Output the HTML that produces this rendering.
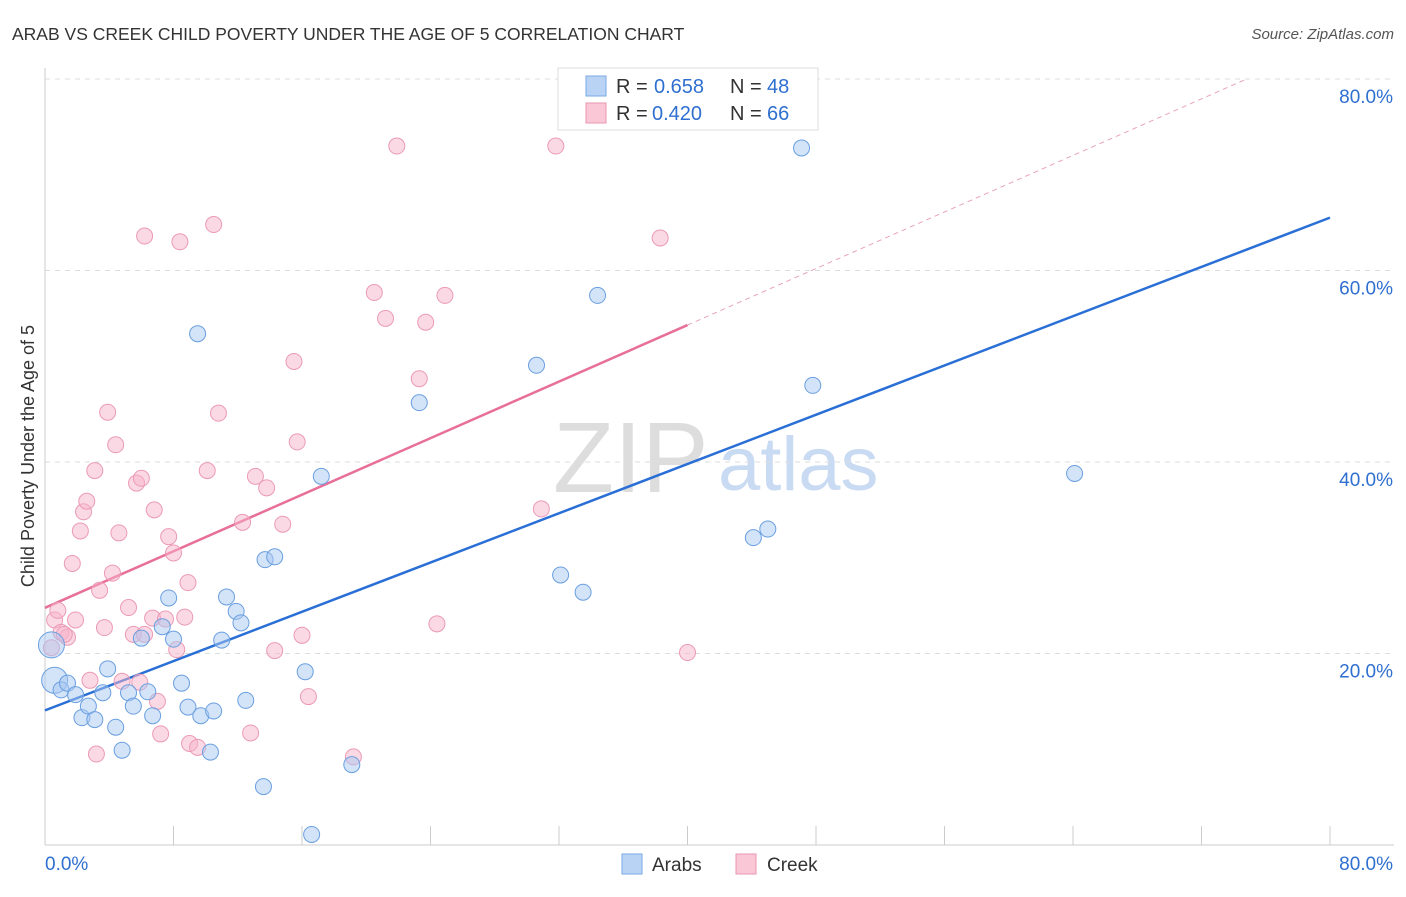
<!DOCTYPE html>
<html><head><meta charset="utf-8"><style>
body{margin:0;background:#fff;font-family:"Liberation Sans",sans-serif;}
svg text{font-family:"Liberation Sans",sans-serif;}
</style></head><body>
<svg id="chart" width="1406" height="892">
<text x="12" y="40" font-size="17.5" fill="#333">ARAB VS CREEK CHILD POVERTY UNDER THE AGE OF 5 CORRELATION CHART</text>
<text x="1394" y="39" font-size="15" fill="#555" font-style="italic" text-anchor="end">Source: ZipAtlas.com</text>
<text x="34" y="456" font-size="18" fill="#333" text-anchor="middle" transform="rotate(-90 34 456)">Child Poverty Under the Age of 5</text>
<text x="553" y="492" font-size="100" fill="#ddd" font-family="Liberation Serif">ZIP</text>
<text x="718" y="490" font-size="76" fill="#c9daf3">atlas</text>
<g id="grid"></g><g id="axes"></g><g id="lines"></g><g id="pts"></g>
<g>
<rect x="558" y="68" width="260" height="62" fill="#fff" stroke="#ddd"/>
<rect x="586" y="76" width="20" height="20" fill="#b9d3f5" stroke="#7aa8e6"/>
<text x="616" y="93" font-size="20" fill="#333">R =</text>
<text x="654" y="93" font-size="20" fill="#2f6fd0">0.658</text>
<text x="730" y="93" font-size="20" fill="#333">N =</text>
<text x="767" y="93" font-size="20" fill="#2f6fd0">48</text>
<rect x="586" y="103" width="20" height="20" fill="#f9c7d5" stroke="#ea94b0"/>
<text x="616" y="120" font-size="20" fill="#333">R =</text>
<text x="652" y="120" font-size="20" fill="#2f6fd0">0.420</text>
<text x="730" y="120" font-size="20" fill="#333">N =</text>
<text x="767" y="120" font-size="20" fill="#2f6fd0">66</text>
</g>
<g>
<rect x="622" y="854" width="20" height="20" fill="#b9d3f5" stroke="#7aa8e6"/>
<text x="652" y="871" font-size="19" fill="#333">Arabs</text>
<rect x="736" y="854" width="20" height="20" fill="#f9c7d5" stroke="#ea94b0"/>
<text x="767" y="871" font-size="19" fill="#333">Creek</text>
</g>
</svg>
<script>
const arabsX=[0.4,0.6,1.0,1.4,1.9,2.3,2.7,3.1,3.6,3.9,4.4,4.8,5.2,5.5,6.0,6.4,6.7,7.3,7.7,8.0,8.5,8.9,9.7,10.3,10.5,11.0,11.3,11.9,12.2,12.5,13.6,13.7,14.3,16.2,16.6,17.2,19.1,23.3,30.6,32.1,33.5,34.4,44.1,45.0,47.1,47.8,64.1,9.5];
const arabsY=[20.9,17.2,16.2,16.9,15.7,13.3,14.5,13.1,15.9,18.4,12.3,9.9,15.9,14.5,21.6,16.0,13.5,22.8,25.8,21.5,16.9,14.4,13.5,9.7,14.0,21.4,25.9,24.4,23.2,15.1,6.1,29.8,30.1,18.1,1.1,38.5,8.4,46.2,50.1,28.2,26.4,57.4,32.1,33.0,72.8,48.0,38.8,53.4];
const creekX=[0.4,0.6,0.8,1.0,1.4,1.7,1.9,2.2,2.4,2.6,2.8,3.1,3.2,3.4,3.7,3.9,4.2,4.4,4.6,4.8,5.2,5.5,5.7,6.0,6.2,6.2,6.7,6.8,7.0,7.2,7.5,7.7,8.0,8.2,8.4,8.7,8.9,9.0,9.5,10.1,10.5,10.8,12.3,12.8,13.1,13.8,14.3,14.8,15.5,15.7,16.0,16.4,19.2,20.5,21.2,21.9,23.3,23.7,24.4,24.9,30.9,31.8,38.3,40.0,5.9,1.2];
const creekY=[20.6,23.5,24.5,22.2,21.7,29.4,23.5,32.8,34.8,35.9,17.2,39.1,9.5,26.6,22.7,45.2,28.4,41.8,32.6,17.1,24.8,22.0,37.8,38.3,22.0,63.6,23.7,35.0,15.0,11.6,23.6,32.2,30.5,20.4,63.0,23.8,27.4,10.6,10.2,39.1,64.8,45.1,33.7,11.7,38.5,37.3,20.3,33.5,50.5,42.1,21.9,15.5,9.2,57.7,55.0,73.0,48.7,54.6,23.1,57.4,35.1,73.0,63.4,20.1,17.0,22.0];
const xTicks=[0,8,16,24,32,40,48,56,64,72,80];
const yTicks=[20,40,60,80];
const X=v=>45+v/80*1285, Y=v=>845-v/80*766;
const NS='http://www.w3.org/2000/svg';
function mk(p,t,a){const e=document.createElementNS(NS,t);for(const k in a)e.setAttribute(k,a[k]);document.getElementById(p).appendChild(e);return e;}
for(const t of yTicks){
 const g=mk('grid','line',{x1:45,x2:1394,y1:Y(t),y2:Y(t),stroke:'#ddd','stroke-dasharray':'5,5'});
 
 
 const l=mk('grid','text',{x:1393,y:Y(t)+24,'font-size':19,fill:'#2f6fd0','text-anchor':'end'});l.textContent=t.toFixed(1)+'%';
 
 
}
const ax=mk('axes','line',{x1:45,x2:45,y1:68,y2:845,stroke:'#ccc'});


const bx=mk('axes','line',{x1:45,x2:1394,y1:845,y2:845,stroke:'#ccc'});


for(const t of xTicks){const e=mk('axes','line',{x1:X(t),x2:X(t),y1:826,y2:845,stroke:'#ccc'});
 
 }
const xl0=mk('axes','text',{x:45,y:870,'font-size':19,fill:'#2f6fd0'});xl0.textContent='0.0%';


const xl1=mk('axes','text',{x:1393,y:870,'font-size':19,fill:'#2f6fd0','text-anchor':'end'});xl1.textContent='80.0%';


function fit(xs,ys){const n=xs.length;let mx=0,my=0;for(let i=0;i<n;i++){mx+=xs[i];my+=ys[i];}mx/=n;my/=n;let sxy=0,sxx=0;for(let i=0;i<n;i++){sxy+=(xs[i]-mx)*(ys[i]-my);sxx+=(xs[i]-mx)**2;}const b=sxy/sxx;return [my-b*mx,b];}
const [ba,bb]=fit(arabsX,arabsY);
const bl=mk('lines','line',{x1:X(0),y1:Y(ba),x2:X(80),y2:Y(ba+bb*80),stroke:'#2a6fd6','stroke-width':2.5});


const [ca,cb]=fit(creekX,creekY);
const pl=mk('lines','line',{x1:X(0),y1:Y(ca),x2:X(40),y2:Y(ca+cb*40),stroke:'#e86f98','stroke-width':2.5});


const xe=Math.min(80,(80-ca)/cb);
const pd=mk('lines','line',{x1:X(40),y1:Y(ca+cb*40),x2:X(xe),y2:Y(ca+cb*xe),stroke:'#e9a0b8','stroke-width':1,'stroke-dasharray':'5,4'});


creekX.forEach((x,i)=>{const c=mk('pts','circle',{cx:X(x),cy:Y(creekY[i]),r:8,fill:'rgba(248,180,202,0.5)',stroke:'#eb9ab5','stroke-width':1});
 
 });
arabsX.forEach((x,i)=>{const c=mk('pts','circle',{cx:X(x),cy:Y(arabsY[i]),r:i<2?13:8,fill:'rgba(168,200,242,0.5)',stroke:'#6a9fe0','stroke-width':1});
 
 });
</script>
</body></html>
